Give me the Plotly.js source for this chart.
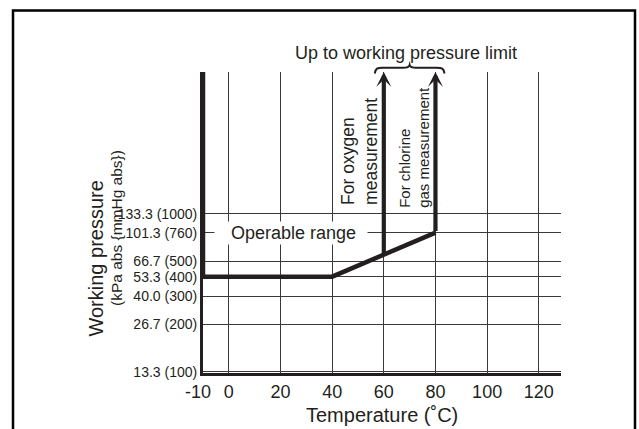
<!DOCTYPE html>
<html>
<head>
<meta charset="utf-8">
<script src="https://cdn.plot.ly/plotly-3.0.1.min.js"></script>
<style>html,body{margin:0;padding:0;background:#fff;}#chart{width:639px;height:429px;}</style>
</head>
<body>
<div id="chart"></div>
<script>
// ---- data ----
const tempTicks = [-10, 0, 20, 40, 60, 80, 100, 120];
const tempLabels = ["-10\u00a0\u00a0", "0", "20", "40", "60", "80", "100", "120"];
const pressureTicks = [100, 200, 300, 400, 500, 760, 1000];           // mmHg abs
const pressureLabels = ["13.3 (100)", "26.7 (200)", "40.0 (300)", "53.3 (400)",
                        "66.7 (500)", "101.3 (760)", "133.3 (1000)"];
const boundaryT = [-10, -10, 40, 80];          // operable range boundary (temperature)
const boundaryP = [7900, 400, 400, 760];       // operable range boundary (pressure)
const arrowT = [60, 80];                       // oxygen, chlorine arrows
const arrowBaseP = [551, 760];
const arrowTopP = 7900;                        // "up to working pressure limit"
const arrowLabels = ["For oxygen<br>measurement", "For chlorine<br>gas measurement"];

const INK = "#231f20";
const FONT = "Liberation Sans, Arial, sans-serif";
const L = Math.log10;

const traces = [{
  x: boundaryT, y: boundaryP, type: "scatter", mode: "lines",
  line: {color: INK, width: 4.5}, hoverinfo: "skip", showlegend: false
}];

const annotations = [];
// arrows
arrowT.forEach((t, i) => {
  annotations.push({
    x: t, y: L(arrowTopP), xref: "x", yref: "y",
    ax: t, ay: L(arrowBaseP[i]), axref: "x", ayref: "y",
    text: "", showarrow: true, arrowhead: 3, arrowsize: 0.6, arrowwidth: 4.2,
    arrowcolor: INK, standoff: 0
  });
});
// arrow labels
annotations.push({
  x: 50.6, y: 0.552, xref: "x", yref: "paper", text: arrowLabels[0],
  textangle: -90, showarrow: false, align: "left", xanchor: "center", yanchor: "bottom",
  font: {family: FONT, size: 17.5, color: INK}
});
annotations.push({
  x: 71.6, y: 0.543, xref: "x", yref: "paper", text: arrowLabels[1],
  textangle: -90, showarrow: false, align: "left", xanchor: "center", yanchor: "bottom",
  font: {family: FONT, size: 15, color: INK}
});
// operable range
annotations.push({
  x: 24, y: L(760), xref: "x", yref: "y", text: "\u00a0\u00a0\u00a0Operable range\u00a0\u00a0",
  showarrow: false, bgcolor: "#ffffff", borderpad: 1,
  font: {family: FONT, size: 18, color: INK}
});
// top caption
annotations.push({
  x: 68.4, y: 1.063, xref: "x", yref: "paper", text: "Up to working pressure limit",
  showarrow: false, yanchor: "middle", font: {family: FONT, size: 18, color: INK}
});
// y title lines
annotations.push({
  x: -0.300, y: 0.379, xref: "paper", yref: "paper", text: "Working pressure",
  textangle: -90, showarrow: false, xanchor: "center", yanchor: "middle",
  font: {family: FONT, size: 20, color: INK}
});
annotations.push({
  x: -0.240, y: 0.482, xref: "paper", yref: "paper", text: "(kPa abs {mmHg abs})",
  textangle: -90, showarrow: false, xanchor: "center", yanchor: "middle",
  font: {family: FONT, size: 15.5, color: INK}
});
// x title
annotations.push({
  x: 0.5, y: -0.138, xref: "paper", yref: "paper", text: "Temperature (\u02daC)",
  showarrow: false, xanchor: "center", yanchor: "middle",
  font: {family: FONT, size: 20, color: INK}
});

const bc = (arrowT[0] + arrowT[1]) / 2;
const shapes = [
  // brace over the two arrows
  {type: "path", xref: "x", yref: "paper", line: {color: INK, width: 2},
   path: `M ${bc-13.5},0.995 C ${bc-13.2},1.012 ${bc-12.5},1.0142 ${bc-10.5},1.0142 ` +
         `L ${bc-2.5},1.0142 C ${bc-0.7},1.0142 ${bc-0.2},1.017 ${bc},1.0235 ` +
         `C ${bc+0.2},1.017 ${bc+0.7},1.0142 ${bc+2.5},1.0142 L ${bc+10.5},1.0142 ` +
         `C ${bc+12.5},1.0142 ${bc+13.2},1.012 ${bc+13.5},0.995`},
  // outer frame
  {type: "rect", xref: "paper", yref: "paper", x0: -0.5307, x1: 1.2067, y0: -0.25, y1: 1.2046,
   line: {color: "#000", width: 2.5}}
];

const layout = {
  width: 639, height: 429,
  margin: {l: 203, r: 78, t: 72, b: 56},
  paper_bgcolor: "#fff", plot_bgcolor: "#fff",
  showlegend: false,
  xaxis: {
    range: [-10, 128.6], tickmode: "array", tickvals: tempTicks, ticktext: tempLabels,
    showgrid: true, gridcolor: "#3a3a3a", gridwidth: 1, zeroline: false,
    showline: true, linecolor: INK, linewidth: 3, ticks: "",
    tickfont: {family: FONT, size: 18, color: INK}, fixedrange: true
  },
  yaxis: {
    type: "log", range: [L(98.2), L(7900)], tickmode: "array",
    tickvals: pressureTicks, ticktext: pressureLabels,
    showgrid: true, gridcolor: "#3a3a3a", gridwidth: 1, zeroline: false,
    showline: true, linecolor: INK, linewidth: 3, ticks: "",
    tickfont: {family: FONT, size: 14, color: INK}, fixedrange: true
  },
  annotations: annotations,
  shapes: shapes
};

Plotly.newPlot("chart", traces, layout, {staticPlot: true, displayModeBar: false});
</script>
</body>
</html>
